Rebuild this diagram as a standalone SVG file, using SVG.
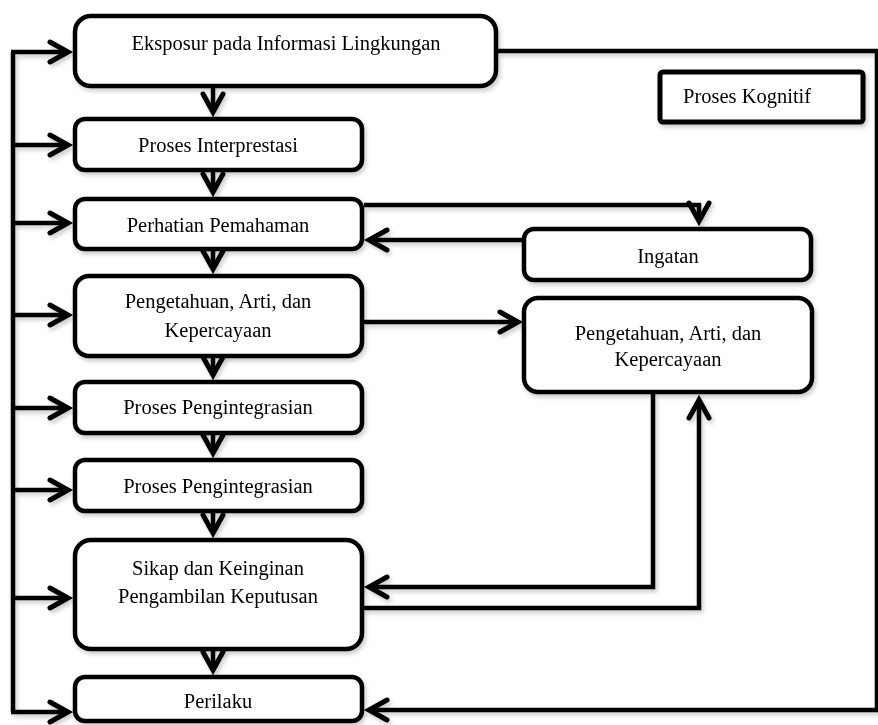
<svg xmlns="http://www.w3.org/2000/svg" width="878" height="725" viewBox="0 0 878 725">
<style>
.box{fill:#fff;stroke:#000;stroke-width:4.5}
.ln{fill:none;stroke:#000;stroke-width:4.5;stroke-linejoin:miter;stroke-linecap:butt}
.ar{marker-end:url(#ah)}
text{font-family:"Liberation Serif","Times New Roman",serif;font-size:20.5px;fill:#000;text-anchor:middle}
</style>
<defs>
<marker id="ah" markerUnits="userSpaceOnUse" markerWidth="36" markerHeight="36" viewBox="-28 -18 36 36" refX="0" refY="0" orient="auto">
<path d="M-18,-10 L0,0 L-18,10" fill="none" stroke="#000" stroke-width="5" stroke-linecap="round"/>
</marker>
<filter id="sh" x="-10%" y="-10%" width="120%" height="130%">
<feDropShadow dx="2" dy="3" stdDeviation="2" flood-color="#000" flood-opacity="0.2"/>
</filter>
</defs>
<rect width="878" height="725" fill="#fff"/>
<g id="connectors" filter="url(#sh)">
<path class="ln" d="M13,52 V712"/>
<path class="ln ar" d="M11,52 H68"/>
<path class="ln ar" d="M13,145 H68"/>
<path class="ln ar" d="M13,223 H68"/>
<path class="ln ar" d="M13,315 H68"/>
<path class="ln ar" d="M13,408 H68"/>
<path class="ln ar" d="M13,490 H68"/>
<path class="ln ar" d="M13,598 H68"/>
<path class="ln ar" d="M11,712 H68"/>
<path class="ln ar" d="M213,88 V112"/>
<path class="ln ar" d="M213,172 V192"/>
<path class="ln ar" d="M213,251 V269"/>
<path class="ln ar" d="M213,358 V375"/>
<path class="ln ar" d="M213,435 V453"/>
<path class="ln ar" d="M213,513 V533"/>
<path class="ln ar" d="M213,651 V670"/>
<path class="ln ar" d="M364,205 H699 V221"/>
<path class="ln ar" d="M522,240 H369"/>
<path class="ln ar" d="M364,322 H518"/>
<path class="ln ar" d="M653,394 V587 H369"/>
<path class="ln ar" d="M364,608 H699 V400"/>
<path class="ln ar" d="M498,51 H877 V710 H369"/>
</g>
<g id="n-eksposur" filter="url(#sh)"><rect class="box" x="75" y="16" width="421" height="70" rx="16"/><text x="286" y="50">Eksposur pada Informasi Lingkungan</text></g>
<g id="n-kognitif" filter="url(#sh)"><rect class="box" x="660" y="72" width="203" height="50" rx="3" style="stroke-width:5"/><text x="683" y="103" style="text-anchor:start">Proses Kognitif</text></g>
<g id="n-interpretasi" filter="url(#sh)"><rect class="box" x="75" y="119" width="287" height="51" rx="10"/><text x="218" y="152">Proses Interprestasi</text></g>
<g id="n-perhatian" filter="url(#sh)"><rect class="box" x="75" y="199" width="287" height="50" rx="10"/><text x="218" y="232">Perhatian Pemahaman</text></g>
<g id="n-pengetahuan1" filter="url(#sh)"><rect class="box" x="75" y="276" width="287" height="80" rx="14"/><text x="218" y="308">Pengetahuan, Arti, dan</text><text x="218" y="337">Kepercayaan</text></g>
<g id="n-pengintegrasian1" filter="url(#sh)"><rect class="box" x="75" y="382" width="287" height="51" rx="10"/><text x="218" y="414">Proses Pengintegrasian</text></g>
<g id="n-pengintegrasian2" filter="url(#sh)"><rect class="box" x="75" y="460" width="287" height="51" rx="10"/><text x="218" y="493">Proses Pengintegrasian</text></g>
<g id="n-sikap" filter="url(#sh)"><rect class="box" x="75" y="540" width="287" height="109" rx="16"/><text x="218" y="575">Sikap dan Keinginan</text><text x="218" y="603">Pengambilan Keputusan</text></g>
<g id="n-perilaku" filter="url(#sh)"><rect class="box" x="75" y="677" width="287" height="44" rx="10"/><text x="218" y="708">Perilaku</text></g>
<g id="n-ingatan" filter="url(#sh)"><rect class="box" x="524" y="229" width="287" height="51" rx="10"/><text x="668" y="263">Ingatan</text></g>
<g id="n-pengetahuan2" filter="url(#sh)"><rect class="box" x="524" y="298" width="288" height="94" rx="14"/><text x="668" y="340">Pengetahuan, Arti, dan</text><text x="668" y="366">Kepercayaan</text></g>
</svg>
